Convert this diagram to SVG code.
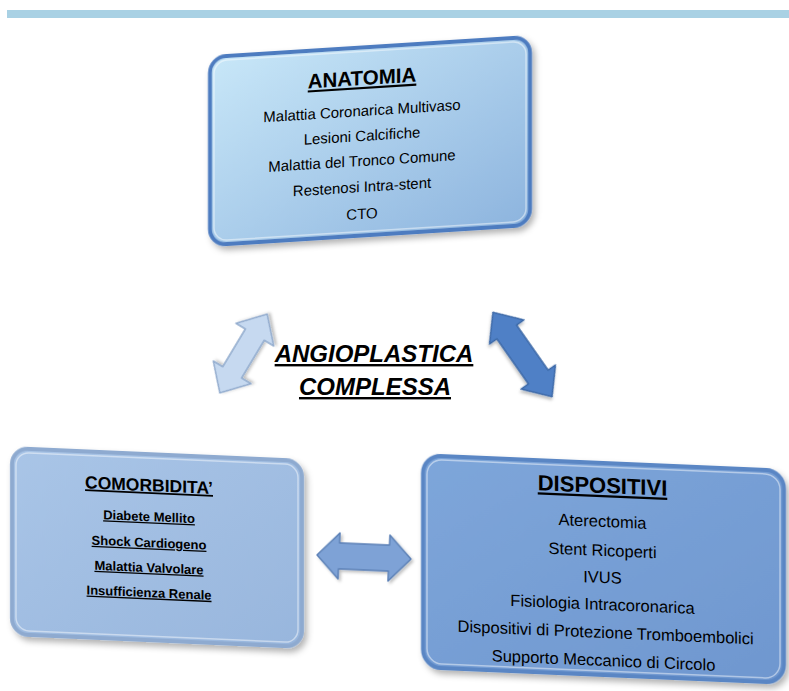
<svg xmlns="http://www.w3.org/2000/svg" width="789" height="691" viewBox="0 0 789 691">
<defs>
  <linearGradient id="gAnat" x1="0" y1="0" x2="1" y2="1">
    <stop offset="0" stop-color="#c8e7f8"/>
    <stop offset="1" stop-color="#8db4de"/>
  </linearGradient>
  <linearGradient id="gComo" x1="0" y1="0" x2="1" y2="1">
    <stop offset="0" stop-color="#a9c5e7"/>
    <stop offset="1" stop-color="#98b6dd"/>
  </linearGradient>
  <linearGradient id="gDisp" x1="0" y1="0" x2="1" y2="1">
    <stop offset="0" stop-color="#7ea6da"/>
    <stop offset="1" stop-color="#6f97cf"/>
  </linearGradient>
  <filter id="shadow" x="-10%" y="-10%" width="125%" height="130%">
    <feDropShadow dx="3" dy="4" stdDeviation="3" flood-color="#000" flood-opacity="0.3"/>
  </filter>
  <filter id="ashadow" x="-20%" y="-20%" width="150%" height="150%">
    <feDropShadow dx="2" dy="2" stdDeviation="1.5" flood-color="#000" flood-opacity="0.25"/>
  </filter>
</defs>
<style>
  .t { font-family: "Liberation Sans", Arial, sans-serif; fill: #000; text-anchor: middle; }
  .h { font-weight: bold; text-decoration: underline; }
  .u { font-weight: bold; text-decoration: underline; font-size: 13px; }
  .inner { fill: none; stroke: #ffffff; stroke-opacity: 0.45; stroke-width: 1.5; }
  .arrow { stroke-width: 1.5; stroke-linejoin: round; filter: url(#ashadow); }
</style>

<rect x="7" y="10" width="782" height="8" fill="#a9d1e4"/>

<g id="anatomia" transform="translate(370,141) skewY(-3.6)">
  <rect x="-160" y="-94" width="320" height="188" rx="16" fill="url(#gAnat)" stroke="#4d7cc0" stroke-width="4" filter="url(#shadow)"/>
  <rect x="-156" y="-90" width="312" height="180" rx="13" class="inner"/>
  <text class="t h" x="-8" y="-56.5" font-size="20.5">ANATOMIA</text>
  <text class="t" x="-8" y="-25.5" font-size="15">Malattia Coronarica Multivaso</text>
  <text class="t" x="-8" y="-0.5" font-size="15">Lesioni Calcifiche</text>
  <text class="t" x="-8" y="24.5" font-size="15">Malattia del Tronco Comune</text>
  <text class="t" x="-8" y="50.5" font-size="15">Restenosi Intra-stent</text>
  <text class="t" x="-8" y="77.5" font-size="15">CTO</text>
</g>

<g id="comorbidita" transform="translate(157,547.5) skewY(2.5)">
  <rect x="-145" y="-93" width="290" height="186" rx="16" fill="url(#gComo)" stroke="#8eaad0" stroke-width="4" filter="url(#shadow)"/>
  <rect x="-141" y="-89" width="282" height="178" rx="13" class="inner"/>
  <text class="t h" x="-8" y="-56" font-size="17.5">COMORBIDITA’</text>
  <text class="t u" x="-8" y="-26">Diabete Mellito</text>
  <text class="t u" x="-8" y="0">Shock Cardiogeno</text>
  <text class="t u" x="-8" y="25">Malattia Valvolare</text>
  <text class="t u" x="-8" y="50">Insufficienza Renale</text>
</g>

<g id="dispositivi" transform="translate(603.5,569) skewY(2.45)">
  <rect x="-180.5" y="-106" width="361" height="212" rx="18" fill="url(#gDisp)" stroke="#5a86c4" stroke-width="4" filter="url(#shadow)"/>
  <rect x="-176.5" y="-102" width="353" height="204" rx="15" class="inner"/>
  <text class="t h" x="-1" y="-76" font-size="22">DISPOSITIVI</text>
  <text class="t" x="-1" y="-42" font-size="16.5">Aterectomia</text>
  <text class="t" x="-1" y="-13" font-size="16.5">Stent Ricoperti</text>
  <text class="t" x="-1" y="14" font-size="16.5">IVUS</text>
  <text class="t" x="-1" y="41" font-size="16.5">Fisiologia Intracoronarica</text>
  <text class="t" x="2" y="69" font-size="16.5">Dispositivi di Protezione Tromboembolici</text>
  <text class="t" x="0" y="97" font-size="16.5">Supporto Meccanico di Circolo</text>
</g>

<g id="angioplastica">
  <text class="t h" x="374" y="362" font-size="24" font-style="italic">ANGIOPLASTICA</text>
  <text class="t h" x="375" y="395" font-size="24" font-style="italic">COMPLESSA</text>
</g>

<g id="connectors">
  <path class="arrow" transform="translate(243.5,353.5) rotate(-59)" fill="#c6d9f0" stroke="#8fa9cc"
        d="M-46,0 L-22,-22 L-22,-11 L22,-11 L22,-22 L46,0 L22,22 L22,11 L-22,11 L-22,22 Z"/>
  <path class="arrow" transform="translate(522.5,354.5) rotate(55)" fill="#4f80c6" stroke="#3b67a6"
        d="M-51.5,0 L-27.5,-21 L-27.5,-12 L27.5,-12 L27.5,-21 L51.5,0 L27.5,21 L27.5,12 L-27.5,12 L-27.5,21 Z"/>
  <path class="arrow" transform="translate(364,557) rotate(2.5)" fill="#7ea2d6" stroke="#5b80b6"
        d="M-47,0 L-25,-23 L-25,-13 L25,-13 L25,-23 L47,0 L25,23 L25,13 L-25,13 L-25,23 Z"/>
</g>
</svg>
